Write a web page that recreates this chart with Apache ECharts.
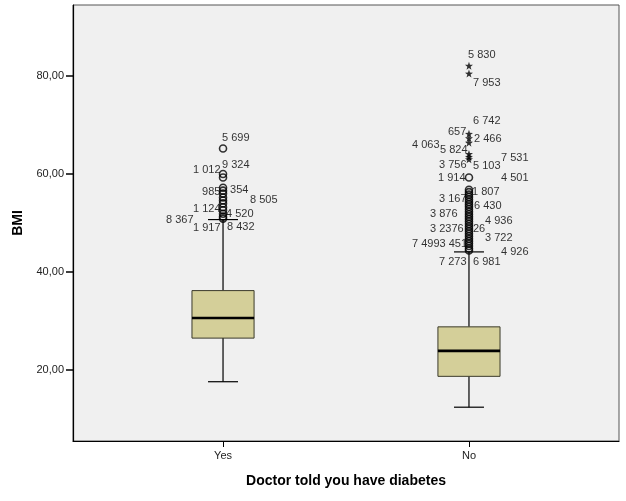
<!DOCTYPE html>
<html>
<head>
<meta charset="utf-8">
<script src="https://cdn.jsdelivr.net/npm/echarts@6/dist/echarts.min.js"></script>
<style>
  html, body { margin: 0; padding: 0; background: #fff; }
  #chart { width: 626px; height: 501px; }
</style>
</head>
<body>
<div id="chart"></div>
<script>
const categories = ['Yes', 'No']
const yTicks = [20, 40, 60, 80]

// [low whisker, Q1, median, Q3, high whisker]
const yesBox = [17.6, 26.5, 30.6, 36.2, 50.7]
const noBox = [12.4, 18.7, 23.9, 28.8, 44.1]

// outliers (circles) and extremes (stars)
const yesOutliers = [65.2, 60.0, 59.3, 57.2, 56.6, 56.0, 55.2, 54.6, 54.0, 53.2, 52.6, 51.9, 51.3, 50.9]
const noExtremes = [82.1, 80.5, 68.2, 67.3, 66.4, 64.1, 63.5, 63.0]
const noOutliers = [59.3, 56.8, 56.3, 55.8, 55.3, 54.8, 54.3, 53.8, 53.3, 52.8, 52.3, 51.8, 51.3, 50.8,
  50.3, 49.8, 49.3, 48.8, 48.3, 47.8, 47.3, 46.8, 46.3, 45.8, 45.3, 44.8, 44.4]

// case labels: [text, bmi position, pixel offset from box centre]
const yesLabels = [
  ['5 699', 67.4, -1], ['1 012', 60.9, -30], ['9 324', 61.9, -1], ['985', 56.4, -21],
  ['354', 56.8, 7], ['8 505', 54.8, 27], ['1 124', 52.8, -30], ['4 520', 51.9, 3],
  ['8 367', 50.7, -57], ['1 917', 48.9, -30], ['8 432', 49.1, 4]
]
const noLabels = [
  ['5 830', 84.3, -1], ['7 953', 78.6, 4], ['6 742', 70.9, 4], ['657', 68.6, -21],
  ['2 466', 67.2, 5], ['4 063', 66.0, -57], ['5 824', 65.0, -29], ['7 531', 63.3, 32],
  ['3 756', 61.9, -30], ['5 103', 61.7, 4], ['1 914', 59.1, -31], ['4 501', 59.1, 32],
  ['1 807', 56.4, 3], ['3 167', 55.0, -30], ['6 430', 53.4, 5], ['3 876', 51.9, -39],
  ['4 936', 50.5, 16], ['3 2376', 48.7, -39], ['26', 48.7, 4], ['3 722', 46.9, 16],
  ['7 4993 451', 45.8, -57], ['4 926', 44.0, 32], ['7 273', 42.0, -30], ['6 981', 42.0, 4]
]

const font = 'Liberation Sans, Arial, sans-serif'
const star = 'path://M0,-10 L2.35,-3.24 9.51,-3.09 3.8,1.24 5.88,8.09 0,4 -5.88,8.09 -3.8,1.24 -9.51,-3.09 -2.35,-3.24Z'

const chart = echarts.init(document.getElementById('chart'))

function renderBox(params, api) {
  const x = api.value(0)
  const v = [api.value(1), api.value(2), api.value(3), api.value(4), api.value(5)]
  const half = api.size([0.2525, 0])[0] / 2
  const cap = api.size([0.122, 0])[0] / 2
  const p = v.map(d => api.coord([x, d]))
  const cx = p[0][0]
  const line = { stroke: '#000', lineWidth: 1.2 }
  return {
    type: 'group',
    children: [
      { type: 'line', shape: { x1: cx, y1: p[0][1], x2: cx, y2: p[1][1] }, style: line },
      { type: 'line', shape: { x1: cx, y1: p[3][1], x2: cx, y2: p[4][1] }, style: line },
      { type: 'line', shape: { x1: cx - cap, y1: p[0][1], x2: cx + cap, y2: p[0][1] }, style: line },
      { type: 'line', shape: { x1: cx - cap, y1: p[4][1], x2: cx + cap, y2: p[4][1] }, style: line },
      {
        type: 'rect',
        shape: { x: cx - half, y: p[3][1], width: half * 2, height: p[1][1] - p[3][1] },
        style: { fill: '#D4CF99', stroke: '#3a3a2a', lineWidth: 1 }
      },
      { type: 'line', shape: { x1: cx - half, y1: p[2][1], x2: cx + half, y2: p[2][1] }, style: { stroke: '#000', lineWidth: 2.6 } }
    ]
  }
}

function labelData(list, x) {
  return list.map(l => ({
    value: [x, l[1]],
    label: { formatter: l[0], position: [l[2], 0] }
  }))
}

const option = {
  animation: false,
  grid: {
    left: 73, right: 7, top: 5, bottom: 60,
    show: true,
    backgroundColor: '#F0F0F0',
    borderColor: '#555',
    borderWidth: 1
  },
  xAxis: {
    type: 'value',
    min: 0.39,
    max: 2.61,
    name: 'Doctor told you have diabetes',
    nameLocation: 'middle',
    nameGap: 33,
    nameTextStyle: { fontFamily: font, fontSize: 14, fontWeight: 'bold', color: '#000' },
    splitLine: { show: false },
    axisLine: { lineStyle: { color: '#000', width: 1.2 } },
    axisTick: { customValues: [1, 2], length: 6, lineStyle: { color: '#000' } },
    axisLabel: {
      customValues: [1, 2],
      formatter: v => categories[Math.round(v) - 1],
      margin: 9,
      fontFamily: font,
      fontSize: 11,
      color: '#222'
    }
  },
  yAxis: {
    type: 'value',
    min: 5.5,
    max: 94.5,
    name: 'BMI',
    nameLocation: 'middle',
    nameGap: 47,
    nameTextStyle: { fontFamily: font, fontSize: 14, fontWeight: 'bold', color: '#000' },
    splitLine: { show: false },
    axisLine: { show: true, lineStyle: { color: '#000', width: 1.2 } },
    axisTick: { customValues: yTicks, length: 7, lineStyle: { color: '#000', width: 1.5 } },
    axisLabel: {
      customValues: yTicks,
      formatter: v => v.toFixed(2).replace('.', ','),
      margin: 9,
      fontFamily: font,
      fontSize: 11,
      color: '#222'
    }
  },
  series: [
    {
      type: 'custom',
      renderItem: renderBox,
      data: [[1].concat(yesBox), [2].concat(noBox)],
      z: 2
    },
    {
      type: 'scatter',
      symbol: 'circle',
      symbolSize: 7,
      itemStyle: { color: 'rgba(0,0,0,0)', borderColor: '#000', borderWidth: 1.6 },
      data: yesOutliers.map(v => [1, v]).concat(noOutliers.map(v => [2, v])),
      z: 3
    },
    {
      type: 'scatter',
      symbol: star,
      symbolSize: 8,
      itemStyle: { color: '#000' },
      data: noExtremes.map(v => [2, v]),
      z: 3
    },
    {
      type: 'scatter',
      symbolSize: 0,
      itemStyle: { color: 'rgba(0,0,0,0)' },
      label: {
        show: true,
        align: 'left',
        verticalAlign: 'middle',
        fontFamily: font,
        fontSize: 11,
        color: '#000'
      },
      data: labelData(yesLabels, 1).concat(labelData(noLabels, 2)),
      z: 4
    }
  ]
}

chart.setOption(option)
</script>
</body>
</html>
